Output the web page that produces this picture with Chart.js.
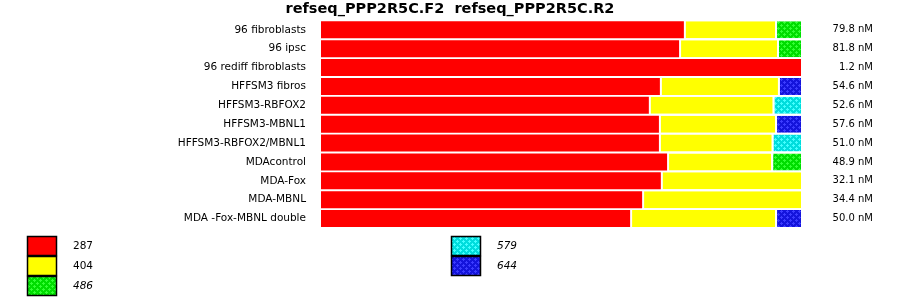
<!DOCTYPE html>
<html>
<head>
<meta charset="utf-8">
<script src="https://cdn.jsdelivr.net/npm/chart.js@4.4.1/dist/chart.umd.min.js"></script>
<style>
  body { margin: 0; background: #fff; }
  canvas { display: block; }
</style>
</head>
<body>
<canvas id="chart" width="900" height="299"></canvas>
<script>
const samples = ['96 fibroblasts', '96 ipsc', '96 rediff fibroblasts', 'HFFSM3 fibros', 'HFFSM3-RBFOX2',
    'HFFSM3-MBNL1', 'HFFSM3-RBFOX2/MBNL1', 'MDAcontrol', 'MDA-Fox', 'MDA-MBNL', 'MDA -Fox-MBNL double'];
const concentrations = ['79.8 nM', '81.8 nM', '1.2 nM', '54.6 nM', '52.6 nM', '57.6 nM',
    '51.0 nM', '48.9 nM', '32.1 nM', '34.4 nM', '50.0 nM'];

// percent of each product size per sample
const size287 = [75.6, 74.6, 100, 70.6, 68.3, 70.4, 70.4, 72.1, 70.8, 66.9, 64.4];
const size404 = [19.0, 20.4, null, 24.6, 25.8, 24.2, 23.5, 21.7, 29.2, 33.1, 30.2];
const size486 = [5.4, 5.0, null, null, null, null, null, 6.2, null, null, null];
const size579 = [null, null, null, null, 5.9, null, 6.1, null, null, null, null];
const size644 = [null, null, null, 4.8, null, 5.4, null, null, null, null, 5.4];

const sizeLabels = ['287', '404', '486', '579', '644'];

function makePattern(base, dot) {
    const tile = document.createElement('canvas');
    tile.width = 6;
    tile.height = 6;
    const t = tile.getContext('2d');
    t.fillStyle = base;
    t.fillRect(0, 0, 6, 6);
    t.fillStyle = dot;
    [[1, 1], [4, 4]].forEach(function(p) {
        t.fillRect(p[0] - 1, p[1], 3, 1);
        t.fillRect(p[0], p[1] - 1, 1, 3);
    });
    return document.getElementById('chart').getContext('2d').createPattern(tile, 'repeat');
}

const fills = [
    '#ff0000',
    '#ffff00',
    makePattern('#00dd00', '#33ff33'),
    makePattern('#00dddd', '#44ffff'),
    makePattern('#1414dc', '#3c3cff')
];

const series = [size287, size404, size486, size579, size644];

// legend like the original: two columns of boxes under the bars
const legendPlugin = {
    id: 'boxLegend',
    afterLayout(chart) {
        // concentration labels end at 873, the title stays centred on the page
        const s = chart.scales.y2;
        s.right = s.left + 72;
    },
    afterDraw(chart) {
        const ctx = chart.ctx;
        const spots = [[27, 236], [27, 256], [27, 276], [451, 236], [451, 256]];
        ctx.save();
        chart.data.datasets.forEach(function(ds, i) {
            const x = spots[i][0], y = spots[i][1];
            ctx.fillStyle = ds.backgroundColor;
            ctx.fillRect(x, y, 29, 19);
            ctx.strokeStyle = '#000';
            ctx.lineWidth = 1.5;
            ctx.strokeRect(x + 0.5, y + 0.5, 29, 19);
            ctx.fillStyle = '#000';
            ctx.font = (i >= 2 ? 'italic ' : '') + '10.5px "DejaVu Sans"';
            ctx.textBaseline = 'middle';
            ctx.textAlign = 'left';
            ctx.fillText(ds.label, x + 46, y + 10);
        });
        ctx.restore();
    }
};

new Chart(document.getElementById('chart'), {
    type: 'bar',
    data: {
        labels: samples,
        datasets: series.map(function(values, i) {
            return {
                label: sizeLabels[i],
                data: values,
                backgroundColor: fills[i],
                borderColor: '#ffffff',
                borderWidth: i === 0 ? 0 : { left: 2, right: 0, top: 0, bottom: 0 },
                borderSkipped: false,
                barPercentage: 0.9,
                categoryPercentage: 1
            };
        })
    },
    options: {
        indexAxis: 'y',
        responsive: false,
        animation: false,
        devicePixelRatio: 1,
        layout: { padding: { left: 0, right: 0, top: 0, bottom: 71 } },
        plugins: {
            legend: { display: false },
            tooltip: { enabled: false },
            title: {
                display: true,
                text: 'refseq_PPP2R5C.F2  refseq_PPP2R5C.R2',
                color: '#000',
                font: { family: 'DejaVu Sans', size: 14.5, weight: 'bold' },
                padding: { top: 1, bottom: 2 }
            }
        },
        scales: {
            x: { stacked: true, min: 0, max: 100, display: false },
            y: {
                stacked: true,
                grid: { display: false },
                border: { display: false },
                ticks: { color: '#000', padding: 7, font: { family: 'DejaVu Sans', size: 10.5 } },
                afterFit(scale) { scale.width = 321; }
            },
            y2: {
                type: 'category',
                labels: concentrations,
                position: 'right',
                offset: true,
                grid: { display: false },
                border: { display: false },
                ticks: { color: '#000', crossAlign: 'far', font: { family: 'DejaVu Sans', size: 10 } },
                afterFit(scale) { scale.width = 99; }
            }
        }
    },
    plugins: [legendPlugin]
});
</script>
</body>
</html>
